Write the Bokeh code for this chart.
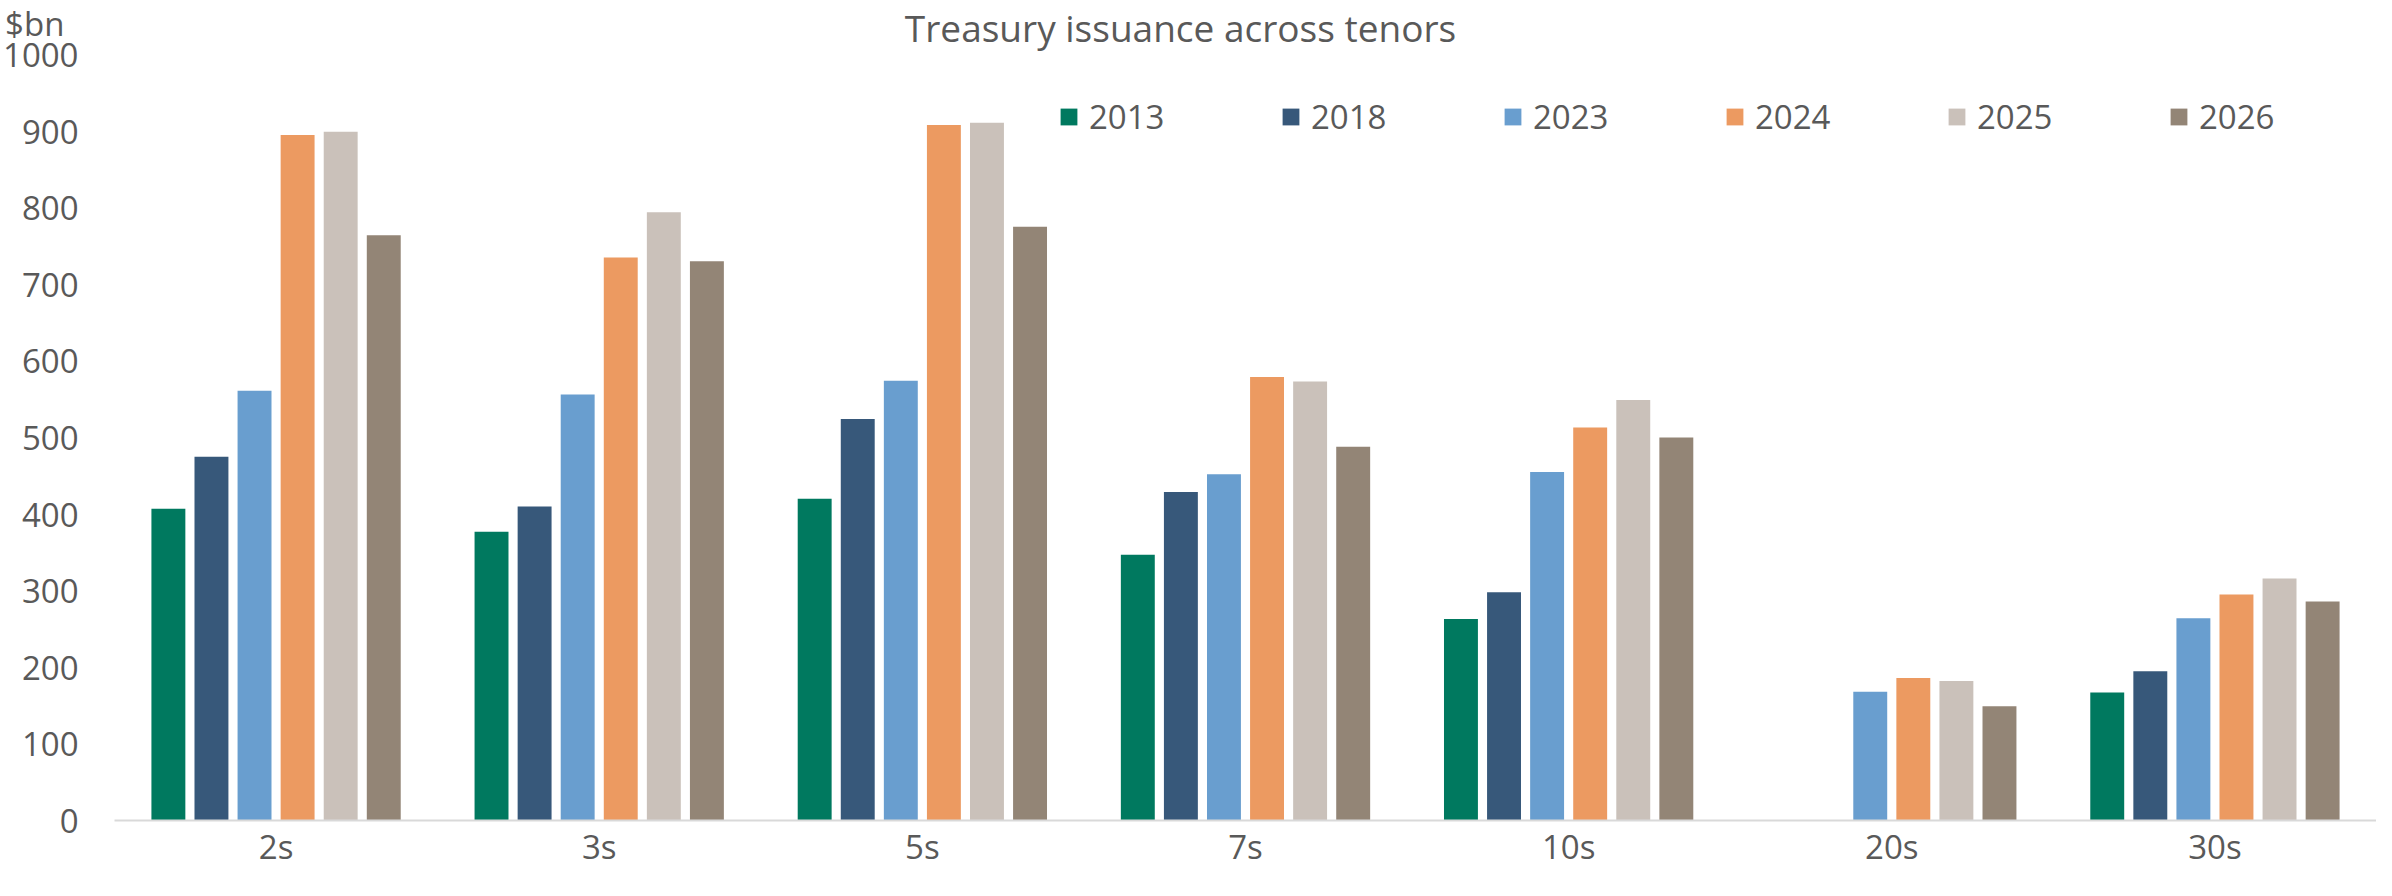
from bokeh.plotting import figure
from bokeh.models import (ColumnDataSource, FactorRange, FixedTicker, Legend, LegendItem,
                          Label, Range1d)
from bokeh.transform import dodge
from bokeh.embed import file_html
from bokeh.resources import INLINE

# ---- data ----
tenors = ["2s", "3s", "5s", "7s", "10s", "20s", "30s"]
years = ["2013", "2018", "2023", "2024", "2025", "2026"]
y2013 = [407, 377, 420, 347, 263, 0, 167]
y2018 = [475, 410, 524, 429, 298, 0, 195]
y2023 = [561, 556, 574, 452, 455, 168, 264]
y2024 = [895, 735, 908, 579, 513, 186, 295]
y2025 = [899, 794, 911, 573, 549, 182, 316]
y2026 = [764, 730, 775, 488, 500, 149, 286]
y_ticks = [0, 100, 200, 300, 400, 500, 600, 700, 800, 900, 1000]
title_text = "Treasury issuance across tenors"
unit_text = "$bn"

colors = ["#00795F", "#37587A", "#699ECF", "#EC9A61", "#CAC1BA", "#938576"]
series = [y2013, y2018, y2023, y2024, y2025, y2026]

source = ColumnDataSource(data=dict(tenor=tenors, **{f"y{yr}": s for yr, s in zip(years, series)}))

FONT = "Open Sans"
TXT = "#595959"

# layout: 1000 units -> 766 px; frame extends 54 px above the 1000 line
PX_PER_UNIT = 0.766
Y_TOP = 1000 + 54 / PX_PER_UNIT
UNIT_POS = 1000 + 32 / PX_PER_UNIT   # where the "$bn" caption sits

p = figure(width=2376, height=880, output_backend="svg", toolbar_location=None,
           title_location=None,
           x_range=FactorRange(factors=tenors, range_padding=0),
           y_range=Range1d(0, Y_TOP),
           min_border_left=114, min_border_right=0, min_border_top=0, min_border_bottom=60)

renderers = []
for i, (yr, col) in enumerate(zip(years, colors)):
    r = p.vbar(x=dodge("tenor", (i - 2.5) * 0.1333, range=p.x_range), top=f"y{yr}",
               width=0.105, source=source, fill_color=col, line_color=None)
    renderers.append(r)

legend = Legend(items=[LegendItem(label=yr, renderers=[r]) for yr, r in zip(years, renderers)],
                orientation="horizontal", location=(944, 681),
                glyph_width=21, glyph_height=21, label_standoff=10, label_width=191,
                label_height=21, spacing=0, padding=0, margin=0,
                border_line_alpha=0, background_fill_alpha=0,
                label_text_font=FONT, label_text_font_size="33px", label_text_color=TXT)
p.add_layout(legend, "center")

# chart title (inside the top strip of the frame)
p.add_layout(Label(x=1066, y=1000 + 27 / PX_PER_UNIT, x_units="screen", y_units="data",
                   text=title_text, text_align="center", text_baseline="middle",
                   text_font=FONT, text_font_size="37px", text_color=TXT))

p.xgrid.visible = False
p.ygrid.visible = False
p.outline_line_color = None

p.yaxis.ticker = FixedTicker(ticks=y_ticks + [UNIT_POS])
p.yaxis.major_label_overrides = {UNIT_POS: unit_text + "\u00a0\u2006"}
p.yaxis.axis_line_color = None
p.yaxis.major_tick_line_color = None
p.yaxis.minor_tick_line_color = None
p.yaxis.major_tick_out = 0
p.yaxis.major_tick_in = 0
p.yaxis.major_label_standoff = 36
p.yaxis.major_label_text_font = FONT
p.yaxis.major_label_text_font_size = "33px"
p.yaxis.major_label_text_color = TXT

p.xaxis.axis_line_color = "#D9D9D9"
p.xaxis.axis_line_width = 2
p.xaxis.major_tick_line_color = None
p.xaxis.minor_tick_line_color = None
p.xaxis.major_tick_out = 0
p.xaxis.major_tick_in = 0
p.xaxis.axis_label_standoff = 0
p.xaxis.major_label_standoff = 3
p.xaxis.major_label_text_font = FONT
p.xaxis.major_label_text_font_size = "33px"
p.xaxis.major_label_text_color = TXT

open("out.html", "w").write(file_html(p, INLINE))
